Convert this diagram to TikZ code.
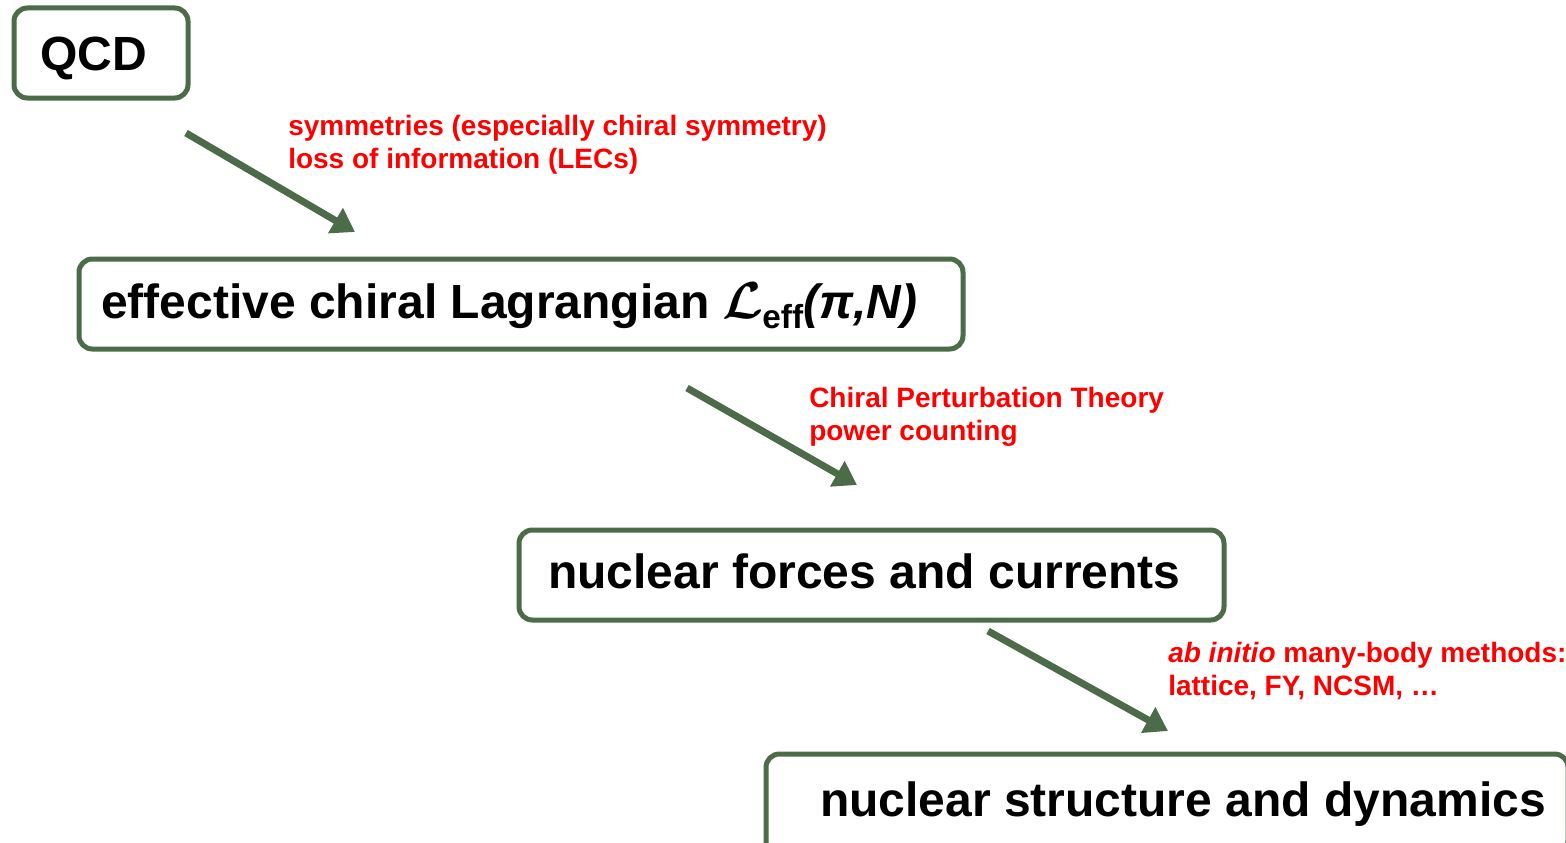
\documentclass[tikz,border=0pt]{standalone}
\usepackage{fontspec}
\setmainfont{Liberation Sans}
\usetikzlibrary{arrows.meta}
\definecolor{boxgreen}{RGB}{76,107,72}
\definecolor{txtred}{RGB}{255,0,0}
\newcommand{\bigL}{\scalebox{3.9}{\normalsize\boldmath$\mathcal{L}$}}
\begin{document}
\begin{tikzpicture}[x=0.75pt,y=-0.75pt,
  stage/.style={draw=boxgreen,line width=3.75pt,rounded corners=10pt,anchor=north west,outer sep=0pt,inner sep=0pt,fill=white},
  bigtext/.style={font=\fontsize{36}{40}\selectfont\bfseries,inner sep=0pt,anchor=base west},
  note/.style={text=txtred,font=\fontsize{21}{24.75}\selectfont\bfseries,align=left,inner sep=0pt,anchor=base west},
  flow/.style={draw=boxgreen,line width=5.25pt,-{Triangle[length=17pt,width=21pt,fill=boxgreen]}}]
\useasboundingbox (0,0) rectangle (1566,842);
\clip (0,0) rectangle (1566,842);
% boxes
\node[stage,minimum width=130.5pt,minimum height=67.5pt] (qcdbox) at (14,8) {};
\node[stage,minimum width=663pt,minimum height=67.5pt] (lagbox) at (79,259) {};
\node[stage,minimum width=528.75pt,minimum height=67.5pt] (forcebox) at (519,530) {};
\node[stage,minimum width=601.5pt,minimum height=75pt] (structbox) at (766,754) {};
% box texts
\node[bigtext] (qcd) at (40,70) {QCD};
\node[bigtext] (lag) at (101,318) {effective chiral Lagrangian \bigL\kern-1pt\raisebox{-0.22em}{\fontsize{25}{25}\selectfont eff}\textit{(π,N)}};
\node[bigtext] (forces) at (548,588) {nuclear forces and currents};
\node[bigtext] (struct) at (820,816) {nuclear structure and dynamics};
% notes (anchored at the baseline of the last line)
\node[note] (note1) at (288,168) {symmetries (especially chiral symmetry)\\loss of information (LECs)};
\node[note] (note2) at (809,440) {Chiral Perturbation Theory\\power counting};
\node[note] (note3) at (1168,695) {\textit{ab initio} many-body methods:\\lattice, FY, NCSM, …};
% arrows
\coordinate (a1s) at (186,133);
\coordinate (a1e) at (355,232);
\coordinate (a2s) at (687,388);
\coordinate (a2e) at (857,485);
\coordinate (a3s) at (988,631);
\coordinate (a3e) at (1168,731);
\draw[flow] (a1s) -- (a1e);
\draw[flow] (a2s) -- (a2e);
\draw[flow] (a3s) -- (a3e);
\end{tikzpicture}
\end{document}
